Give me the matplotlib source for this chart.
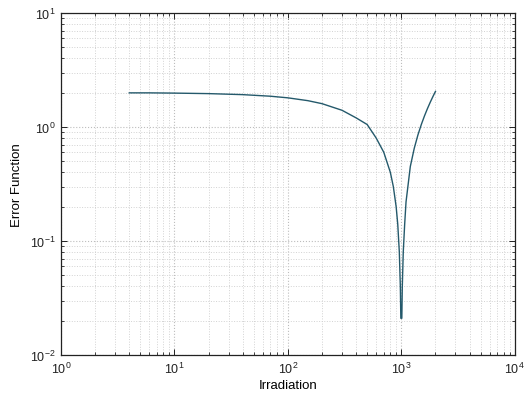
import matplotlib
matplotlib.use("Agg")
import matplotlib.pyplot as plt
from matplotlib.ticker import LogLocator, NullFormatter

plt.rcParams['font.family'] = ['Liberation Sans', 'DejaVu Sans']

# irradiation samples and the error function along them
irradiation = [4, 6, 10, 20, 40, 70, 100, 150, 200, 300, 400, 500, 600, 700,
               800, 850, 900, 930, 960, 980, 990, 1010, 1020, 1040, 1070,
               1100, 1200, 1300, 1400, 1500, 1600, 1700, 1800, 1900, 2000]
error_fn = [1.99, 1.99, 1.98, 1.96, 1.92, 1.86, 1.80, 1.70, 1.60, 1.40, 1.20,
            1.05, 0.80, 0.60, 0.40, 0.30, 0.20, 0.14, 0.08, 0.04, 0.021,
            0.021, 0.04, 0.08, 0.14, 0.22, 0.45, 0.65, 0.85, 1.05, 1.25,
            1.45, 1.65, 1.85, 2.05]

fig = plt.figure(figsize=(5.24, 4.02), dpi=100)
ax = fig.add_axes([0.1164, 0.1144, 0.866, 0.851])

ax.loglog(irradiation, error_fn, color='#24596b', linewidth=1.0)

ax.set_xlim(1, 1e4)
ax.set_ylim(1e-2, 1e1)
ax.xaxis.set_major_locator(LogLocator(base=10, numticks=10))
ax.yaxis.set_major_locator(LogLocator(base=10, numticks=10))
ax.xaxis.set_minor_locator(LogLocator(base=10, subs=range(2, 10), numticks=20))
ax.yaxis.set_minor_locator(LogLocator(base=10, subs=range(2, 10), numticks=20))
ax.xaxis.set_minor_formatter(NullFormatter())
ax.yaxis.set_minor_formatter(NullFormatter())

ax.grid(True, which='major', color='#bdbdbd', linestyle=':', linewidth=0.8)
ax.grid(True, which='minor', color='#d2d2d2', linestyle=':', linewidth=0.7)

ax.tick_params(which='both', direction='in', top=True, right=True,
               labelsize=9, colors='#222222')
ax.tick_params(which='major', length=4, width=0.7, pad=4)
ax.tick_params(which='minor', length=2, width=0.6)
for s in ax.spines.values():
    s.set_linewidth(0.9)
    s.set_color('#222222')

ax.set_xlabel('Irradiation', fontsize=9.5, labelpad=2)
ax.set_ylabel('Error Function', fontsize=9.5, labelpad=5)

fig.savefig('out.png', dpi=100)
